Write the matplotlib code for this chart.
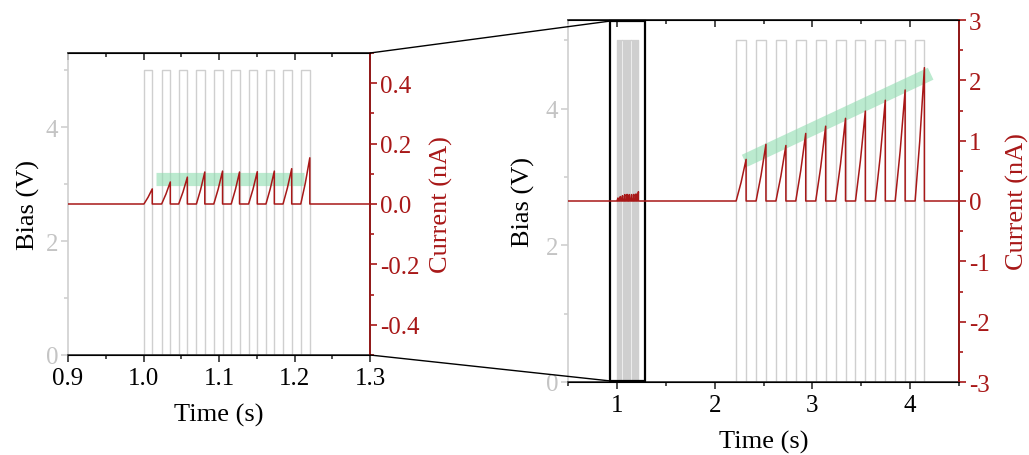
import numpy as np
import matplotlib
matplotlib.use('Agg')
import matplotlib.pyplot as plt
from matplotlib.patches import Rectangle, ConnectionPatch
from matplotlib.ticker import MultipleLocator
import matplotlib.transforms as mtrans

plt.rcParams['font.family'] = ['Liberation Serif', 'DejaVu Serif']
plt.rcParams['axes.unicode_minus'] = False

# ---------------- data ----------------
burst1_on = [1.0006, 1.0240, 1.0466, 1.0701, 1.0931, 1.1162, 1.1392, 1.1622, 1.1848, 1.2083]
burst1_off = [1.0116, 1.0355, 1.0581, 1.0812, 1.1047, 1.1272, 1.1507, 1.1733, 1.1963, 1.2203]
burst1_peak = [0.050, 0.073, 0.089, 0.106, 0.109, 0.106, 0.107, 0.109, 0.117, 0.153]

burst2_on = [2.220, 2.424, 2.627, 2.830, 3.034, 3.237, 3.441, 3.644, 3.847, 4.051]
burst2_off = [2.322, 2.525, 2.729, 2.932, 3.136, 3.339, 3.542, 3.746, 3.949, 4.146]
burst2_peak = [0.69, 0.94, 0.92, 1.12, 1.24, 1.37, 1.49, 1.67, 1.84, 2.21]

bias_high = 5.0
t_start, t_end = 0.5, 4.5

band1 = ([1.017, 1.213], [0.084, 0.084])     # left panel trend band
band2 = ([2.307, 4.21], [0.667, 2.11])       # right panel trend band

left_x_ticks = [0.9, 1.0, 1.1, 1.2, 1.3]
left_cur_ticks = [-0.4, -0.2, 0.0, 0.2, 0.4]
right_x_ticks = [1, 2, 3, 4]
right_cur_ticks = [-3, -2, -1, 0, 1, 2, 3]
bias_ticks = [0, 2, 4]

zoom_box = (0.93, 1.285)

# ---------------- build traces ----------------
on_all = burst1_on + burst2_on
off_all = burst1_off + burst2_off
peak_all = burst1_peak + burst2_peak

bt, bv = [t_start], [0.0]
ct, cv = [t_start], [0.0]
for on, off, pk in zip(on_all, off_all, peak_all):
    bt += [on, on, off, off]
    bv += [0.0, bias_high, bias_high, 0.0]
    ct += [on, on + 0.5 * (off - on), off, off]
    cv += [0.0, 0.45 * pk, pk, 0.0]
bt.append(t_end); bv.append(0.0)
ct.append(t_end); cv.append(0.0)

# ---------------- style ----------------
GRAY = '#cfcfcf'
GRAYTXT = '#c4c4c4'
RED = '#a81818'
GREEN = '#8fdcb0'
DARK = '#303030'
FS = 18
LFS = 19

fig = plt.figure(figsize=(10.29, 4.56), dpi=100)


def style_axes(ax, axc, xlim, xticks, xminor, cylim, cticks, cminor, fmt):
    ax.set_xlim(*xlim)
    ax.set_ylim(0, 5.3)
    ax.plot(bt, bv, color=GRAY, lw=1.0, zorder=1)
    ax.set_xticks(xticks)
    ax.xaxis.set_minor_locator(MultipleLocator(xminor))
    ax.set_yticks(bias_ticks)
    ax.yaxis.set_minor_locator(MultipleLocator(1))
    ax.tick_params(axis='x', which='major', direction='out', length=5, width=1.2,
                   color=DARK, labelsize=FS, pad=4)
    ax.tick_params(axis='x', which='minor', direction='out', length=3, width=1.2, color=DARK)
    ax.tick_params(axis='y', which='major', direction='out', length=5, width=1.2,
                   color=GRAY, labelcolor=GRAYTXT, labelsize=FS, pad=2)
    ax.tick_params(axis='y', which='minor', direction='out', length=3, width=1.2, color=GRAY)
    ax.spines['left'].set_color(GRAY)
    ax.spines['top'].set_color(DARK)
    ax.spines['bottom'].set_color(DARK)
    for s in ax.spines.values():
        s.set_linewidth(1.2)
    ax.set_xlabel('Time (s)', fontsize=LFS, labelpad=10)
    ax.set_ylabel('Bias (V)', fontsize=LFS, color='black', labelpad=4)
    sec = ax.secondary_xaxis('top')
    sec.set_xticks(xticks)
    sec.xaxis.set_minor_locator(MultipleLocator(xminor))
    sec.tick_params(axis='x', which='major', direction='in', length=5, width=1.2,
                    color=DARK, labeltop=False)
    sec.tick_params(axis='x', which='minor', direction='in', length=3, width=1.2, color=DARK)
    sec.spines['top'].set_color(DARK)
    sec.spines['top'].set_linewidth(1.2)

    axc.set_ylim(*cylim)
    axc.set_yticks(cticks)
    axc.set_yticklabels([fmt(v) for v in cticks])
    axc.yaxis.set_minor_locator(MultipleLocator(cminor))
    axc.tick_params(axis='y', which='major', direction='out', length=5, width=1.2,
                    color=RED, labelcolor=RED, labelsize=FS, pad=2)
    axc.tick_params(axis='y', which='minor', direction='out', length=3, width=1.2, color=RED)
    axc.spines['right'].set_color(RED)
    axc.spines['right'].set_linewidth(1.2)
    axc.spines['left'].set_visible(False)
    axc.set_ylabel('Current (nA)', fontsize=LFS, color=RED, labelpad=8)
    axc.plot(ct, cv, color=RED, lw=1.1, zorder=3)


# left panel
ax1 = fig.add_axes([68 / 1029, 1 - 356 / 456, (370 - 68) / 1029, (356 - 54) / 456])
ax1c = ax1.twinx()
style_axes(ax1, ax1c, (0.9, 1.3), left_x_ticks, 0.05, (-0.5, 0.5), left_cur_ticks, 0.1,
           lambda v: f'{v:.1f}')
ax1c.plot(band1[0], band1[1], color=GREEN, lw=9.5, alpha=0.6, solid_capstyle='butt', zorder=2)

# right panel
ax2 = fig.add_axes([568 / 1029, 1 - 383 / 456, (959 - 568) / 1029, (383 - 21) / 456])
ax2c = ax2.twinx()
style_axes(ax2, ax2c, (0.5, 4.5), right_x_ticks, 0.5, (-3, 3), right_cur_ticks, 0.5,
           lambda v: f'{v:d}')
ax2c.plot(band2[0], band2[1], color=GREEN, lw=9.5, alpha=0.6, solid_capstyle='butt', zorder=2)
ax2.yaxis.labelpad = 8
ax2c.yaxis.labelpad = 12

# zoom box on right panel
trans = mtrans.blended_transform_factory(ax2.transData, ax2.transAxes)
rect = Rectangle((zoom_box[0], 0.003), zoom_box[1] - zoom_box[0], 0.994, transform=trans,
                 fill=False, edgecolor='black', lw=1.6, zorder=10, clip_on=False)
ax2.add_patch(rect)

# connecting lines
for ya, yb in [(1.0, 0.997), (0.0, 0.003)]:
    con = ConnectionPatch(xyA=(1.0, ya), coordsA=ax1.transAxes,
                          xyB=(zoom_box[0], yb), coordsB=trans,
                          color='black', lw=1.0)
    fig.add_artist(con)

fig.savefig('out.png', dpi=100)
